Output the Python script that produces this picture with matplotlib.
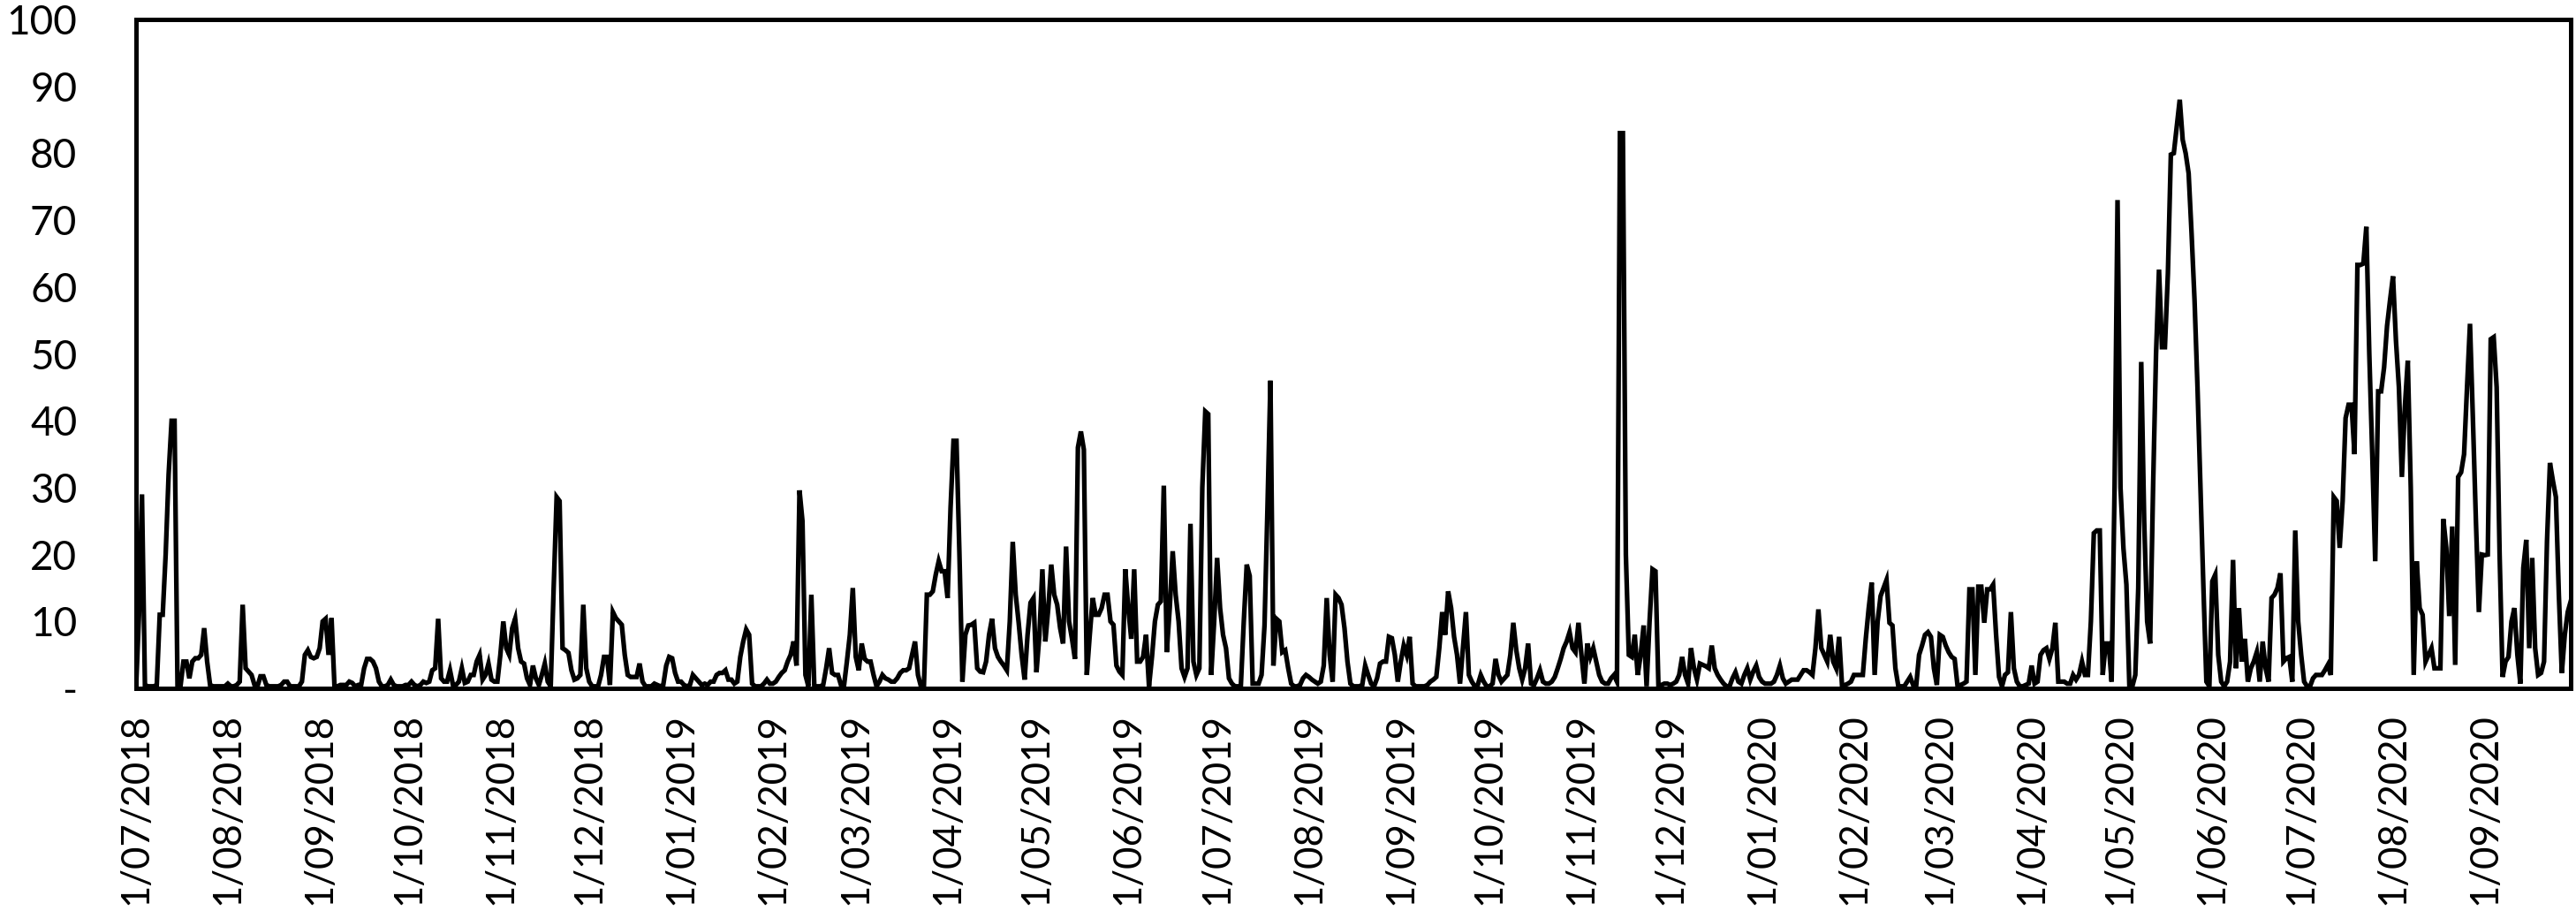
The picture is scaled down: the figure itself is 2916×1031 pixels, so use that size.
import matplotlib
matplotlib.use("Agg")
import matplotlib.pyplot as plt
import pandas as pd

plt.rcParams['font.family'] = ['Lato', 'DejaVu Sans']

# Daily values, one list per month
jul_2018 = [0, 11, 29, 0.5, 0.3, 0.3, 0.3, 0.5, 11, 11, 20, 32, 40, 40, 0.3, 0.3, 4, 4, 1.5, 4,
            4.5, 4.5, 5, 9, 4, 0.5, 0.3, 0.3, 0.3, 0.3, 0.3]
aug_2018 = [0.7, 0.3, 0.3, 0.5, 1, 12.5, 3, 2.5, 2, 0.5, 0.3, 1.8, 1.8, 0.5, 0.3, 0.3, 0.3, 0.3, 0.5, 1,
            1, 0.3, 0.3, 0.3, 0.3, 1, 5, 5.7, 4.7, 4.5, 4.7]
sep_2018 = [6, 10, 10.4, 5, 10.5, 0.3, 0.3, 0.5, 0.5, 0.5, 1, 0.8, 0.3, 0.5, 0.5, 3, 4.4, 4.4, 4, 3,
            1, 0.3, 0.3, 0.5, 1.3, 0.5, 0.3, 0.3, 0.3, 0.5]
oct_2018 = [0.5, 1, 0.5, 0.3, 0.5, 1, 0.8, 1, 2.7, 3, 10.4, 1.5, 1, 1, 2.7, 0.5, 0.5, 1, 3, 0.8,
            1, 2, 2, 4, 5, 1.3, 2, 3.7, 1.3, 1, 1]
nov_2018 = [5, 10, 6, 5, 9, 10.4, 6, 4, 3.7, 1.5, 0.5, 3.4, 1.5, 0.5, 2, 3.7, 1, 0.3, 15, 28.6,
            28, 6, 5.7, 5.3, 2.7, 1.3, 1.5, 2, 12.5, 3]
dec_2018 = [1, 0.3, 0.3, 0.3, 2, 4.7, 4.7, 0.5, 11.4, 10.5, 10, 9.5, 5, 2, 1.7, 1.7, 1.7, 3.7, 1, 0.3,
            0.3, 0.3, 0.7, 0.5, 0.3, 0.5, 3.4, 4.7, 4.5, 2.3, 1]
jan_2019 = [1, 0.5, 0.3, 0.5, 2, 1.5, 1, 0.5, 0.7, 0.5, 1, 1, 2, 2.3, 2.3, 2.7, 1.3, 1.3, 0.7, 1,
            4.7, 7, 8.8, 8, 0.7, 0.3, 0.3, 0.3, 0.7, 1.3, 0.7]
feb_2019 = [0.7, 1, 1.7, 2.3, 2.7, 4, 5, 7, 3.4, 29.6, 25, 2, 0.3, 14, 0.3, 0.3, 0.3, 0.5, 3, 6,
            2.3, 2, 2, 0.5, 0.3, 4, 8, 15]
mar_2019 = [4.7, 2.7, 6.7, 4.4, 4, 4, 2, 0.3, 1, 2, 1.5, 1.3, 1, 1, 1.5, 2.3, 2.7, 2.7, 3, 5,
            7, 2, 0.3, 0.3, 14, 14, 14.5, 17, 19, 17.5, 17.5]
apr_2019 = [13.5, 27, 37, 37, 20, 1, 8, 9.4, 9.5, 9.8, 3, 2.5, 2.4, 4, 8, 10.4, 6, 4.7, 4, 3.4,
            2.7, 10, 21.9, 14, 9.8, 5, 1.3, 8, 12.8, 13.5]
may_2019 = [2.4, 8, 17.8, 7, 12, 18.5, 14, 12.5, 9, 6.7, 21.2, 10, 7.4, 4.4, 36, 38.4, 35.7, 2, 8, 13.5,
            11, 11, 12, 14, 14, 10, 9.5, 3.4, 2.5, 2, 17.8]
jun_2019 = [12, 7.4, 17.8, 4, 4, 4.7, 8, 0.3, 4.7, 10, 12.5, 13, 30.3, 5.4, 12, 20.5, 14, 10, 3, 1.7,
            3, 24.6, 4, 2, 3, 30, 41.4, 41, 2, 10]
jul_2019 = [19.5, 12, 8, 6, 1.5, 0.7, 0.3, 0.3, 0.3, 10, 18.5, 16.8, 0.7, 0.7, 0.7, 2, 9.4, 27, 46, 3.4,
            10.4, 10, 5.4, 5.7, 3, 0.7, 0.3, 0.3, 0.5, 1.5, 2]
aug_2019 = [1.7, 1.3, 1, 0.7, 1, 3.4, 13.5, 5, 1, 14, 13.5, 12.5, 9, 4, 0.7, 0.3, 0.3, 0.3, 0.5, 3.4,
            2, 0.7, 0.3, 1.5, 3.7, 4, 4, 7.7, 7.5, 5, 1]
sep_2019 = [4, 6.4, 5, 7.7, 0.7, 0.3, 0.3, 0.3, 0.3, 0.5, 1, 1.3, 1.7, 6, 11.4, 8, 14.5, 12, 7.7, 5,
            0.7, 6, 11.4, 2, 1, 0.3, 0.5, 2, 1, 0.3]
oct_2019 = [0.3, 0.7, 4.4, 2, 1, 1.5, 2, 5, 9.8, 5.7, 3, 1.3, 3, 6.7, 0.7, 0.5, 1.5, 2.7, 1, 0.7,
            0.7, 1, 1.7, 3, 4.4, 6, 7, 8.4, 6, 5.4, 9.8]
nov_2019 = [5, 0.7, 6.7, 4.7, 6, 4, 2, 1, 0.7, 0.7, 1.5, 2, 1, 83, 83, 20, 5, 4.7, 8, 2,
            5, 9.4, 0.3, 10, 17.8, 17.5, 0.3, 0.5, 0.7, 0.7]
dec_2019 = [0.5, 0.7, 1, 2, 4.7, 2, 0.7, 6, 3, 1.3, 3.7, 3.5, 3.3, 3, 6.4, 3, 2, 1.3, 0.7, 0.3,
            0.3, 1.5, 2.4, 1, 0.7, 2, 3, 1.3, 2.5, 3.4, 1.7]
jan_2020 = [1, 0.7, 0.7, 0.7, 1, 2, 3.4, 1.5, 0.7, 1, 1.3, 1.3, 1.3, 2, 2.7, 2.7, 2.4, 2, 6, 11.8,
            6, 5, 4, 8, 4, 3, 7.7, 0.3, 0.5, 0.7, 1]
feb_2020 = [2, 2, 2, 2, 7.4, 12, 15.8, 2, 10, 13.8, 15, 16.2, 9.8, 9.4, 3, 0.3, 0.3, 0.3, 1, 1.7,
            0.5, 0.3, 5, 6.4, 8, 8.4, 7.7, 3, 0.5]
mar_2020 = [8, 7.7, 6.4, 5.4, 4.7, 4.4, 0.3, 0.5, 0.7, 1, 14.8, 14.8, 2, 15.2, 15.2, 9.8, 14.8, 14.8, 15.5, 8,
            1.7, 0.3, 2, 2.4, 11.4, 3, 1, 0.3, 0.3, 0.5, 0.7]
apr_2020 = [3.4, 0.7, 1, 5, 5.7, 6, 4.4, 6, 9.8, 1, 1, 1, 0.7, 0.7, 2, 1.3, 2, 4, 2, 2,
            10, 23.2, 23.6, 23.6, 2, 6.7, 6.7, 1, 30, 73]
may_2020 = [30, 20.9, 15.5, 0.3, 0.3, 2, 15, 48.8, 25, 10, 6.7, 30, 50, 62.6, 51, 51, 62, 79.8, 80, 84,
            88, 82, 80, 77, 68, 58, 45, 30, 15, 1, 0.3]
jun_2020 = [16, 17, 5, 1, 0.3, 1, 4, 19.2, 3, 12, 4, 7.4, 1, 3, 4, 5.4, 1, 7, 3, 1,
            13.5, 14, 15, 17.2, 4, 4.5, 4.7, 1, 23.6, 10]
jul_2020 = [5, 1, 0.3, 0.3, 1.5, 2, 2, 2, 2.7, 3.5, 2, 28.6, 28, 21, 28, 40.4, 42.4, 42.4, 35, 63.3,
            63.3, 63.5, 69, 50, 35, 19, 44.4, 44.4, 48, 54.2, 58]
aug_2020 = [61.6, 52, 45, 31.6, 42, 49, 30, 2, 19, 12, 11, 4, 5, 6, 3, 3, 3, 25.3, 21, 10.8,
            24.2, 3.5, 31.6, 32.3, 35, 45, 54.5, 40, 25, 11.4, 20]
sep_2020 = [19.9, 20, 52.2, 52.5, 45, 20, 1.7, 4, 4.7, 10, 12, 5, 0.7, 18, 22.2, 6, 19.5, 6, 2, 2.3,
            4, 22, 33.7, 31, 28.6, 14, 2.3, 8, 11.4, 13]

months = [jul_2018, aug_2018, sep_2018, oct_2018, nov_2018, dec_2018,
          jan_2019, feb_2019, mar_2019, apr_2019, may_2019, jun_2019,
          jul_2019, aug_2019, sep_2019, oct_2019, nov_2019, dec_2019,
          jan_2020, feb_2020, mar_2020, apr_2020, may_2020, jun_2020,
          jul_2020, aug_2020, sep_2020]
values = [v for m in months for v in m]
dates = pd.date_range("2018-07-01", periods=len(values), freq="D")

tick_dates = pd.date_range("2018-07-01", "2020-09-01", freq="MS")
tick_labels = [f"{d.day}/{d.month:02d}/{d.year}" for d in tick_dates]
y_ticks = [0, 10, 20, 30, 40, 50, 60, 70, 80, 90, 100]
y_labels = ["-", "10", "20", "30", "40", "50", "60", "70", "80", "90", "100"]

W, H = 2916, 1031
fig = plt.figure(figsize=(W / 100, H / 100), dpi=100)
left, right, top, bottom = 154, 2910, 22, 779
ax = fig.add_axes([left / W, 1 - bottom / H, (right - left) / W, (bottom - top) / H])

ax.plot(dates, values, color="black", lw=3.8, solid_joinstyle="miter")
ax.set_xlim(dates[0], dates[-1])
ax.set_ylim(0, 100)

ax.set_xticks(tick_dates)
ax.set_xticklabels(tick_labels, rotation=90, ha="center", va="top", fontsize=31.5)
ax.set_yticks(y_ticks)
ax.set_yticklabels(y_labels, fontsize=33)
ax.tick_params(axis="x", length=0, pad=20)
ax.tick_params(axis="y", length=0, pad=48)

for s in ax.spines.values():
    s.set_linewidth(3.6)
    s.set_color("black")

fig.savefig("out.png", dpi=100)
